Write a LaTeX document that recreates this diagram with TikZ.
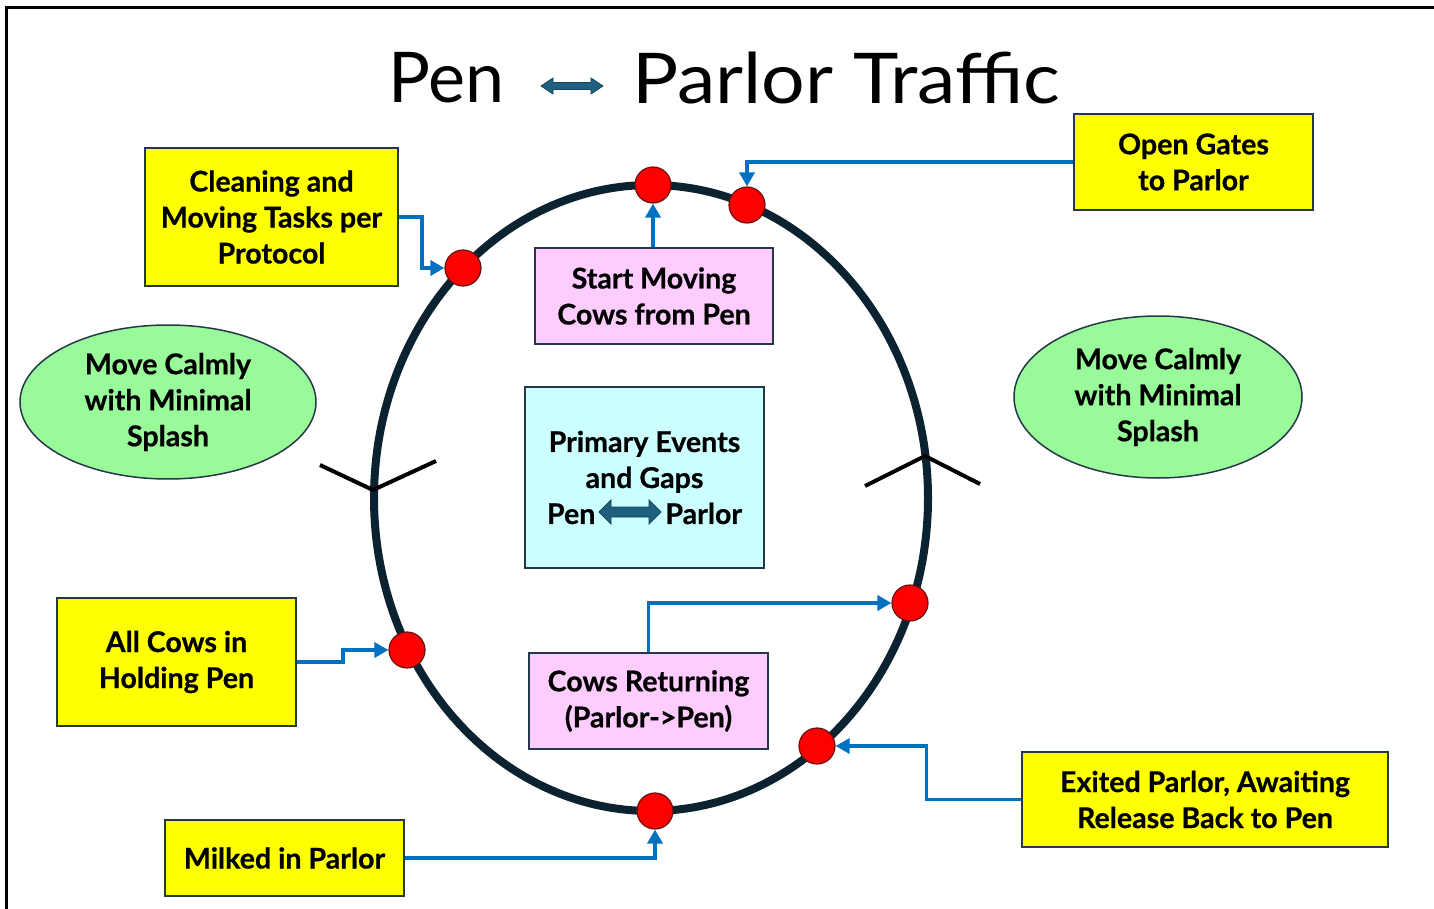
\documentclass[tikz,border=0pt]{standalone}
\usepackage{fontspec}
\setmainfont{Lato}
\newfontfamily\boxfont{Lato}[BoldFeatures={FakeBold=0.6}]
\newfontfamily\titlefont{Lato}
\newfontfamily\titlewidefont{Lato}[FakeStretch=1.1]
\usetikzlibrary{shapes.geometric,arrows.meta,calc}
\definecolor{boxyellow}{HTML}{FFFF00}
\definecolor{boxpink}{HTML}{FFCCFF}
\definecolor{boxcyan}{HTML}{CCFFFF}
\definecolor{boxgreen}{HTML}{99FA99}
\definecolor{edgecol}{HTML}{253848}
\definecolor{ringcol}{HTML}{0B2230}
\definecolor{conncol}{HTML}{0070C0}
\definecolor{tealcol}{HTML}{1F5F80}
\definecolor{dotedge}{HTML}{6A1010}
\begin{document}
\begin{tikzpicture}[x=0.5pt,y=-0.5pt,
  txt/.style={font=\boxfont\fontsize{14.3}{18}\selectfont\bfseries, align=center, inner sep=0pt, text=black},
  ybox/.style={txt, draw=edgecol, line width=0.75pt, fill=boxyellow, rectangle},
  pbox/.style={txt, draw=edgecol, line width=0.75pt, fill=boxpink, rectangle},
  cbox/.style={txt, draw=edgecol, line width=0.75pt, fill=boxcyan, rectangle},
  gell/.style={txt, draw=edgecol, line width=0.75pt, fill=boxgreen, ellipse},
  reddot/.style={circle, fill=red, draw=dotedge, line width=0.6pt, minimum size=18pt, inner sep=0pt},
  conn/.style={draw=conncol, line width=1.75pt, -{Triangle[length=7pt,width=7.5pt]}},
  chev/.style={draw=black, line width=2pt},
  tealarrow/.style={fill=tealcol, draw=tealcol!70!black, line width=0.4pt}
]
\useasboundingbox (0,0) rectangle (1434,909);
% frame
\draw[line width=1.5pt] (6,909) -- (6,8) -- (1434,8);

% title
\node[font=\titlefont\fontsize{35}{40}\selectfont, inner sep=0pt, anchor=west] (tpen) at (388,78) {Pen};
\node[font=\titlewidefont\fontsize{35}{40}\selectfont, inner sep=0pt, anchor=west] (tparlor) at (632,78) {Parlor Traffic};
\begin{scope}[shift={(572,86)}]
\path[tealarrow] (-31,0) -- (-19,-8) -- (-19,-3.5) -- (19,-3.5) -- (19,-8) -- (31,0) -- (19,8) -- (19,3.5) -- (-19,3.5) -- (-19,8) -- cycle;
\end{scope}

% ring
\node[ellipse, draw=ringcol, line width=4pt, minimum width=277pt, minimum height=313pt, inner sep=0pt] (ring) at (651,498) {};

% chevrons
\coordinate (vl) at (373,490);
\coordinate (vr) at (925,456);
\draw[chev] ($(vl)+(-53,-25)$) -- (vl) -- ($(vl)+(63,-29)$);
\draw[chev] ($(vr)+(-60,30)$) -- (vr) -- ($(vr)+(55,28)$);

% boxes
\node[ybox, minimum width=126.5pt, minimum height=69pt] (clean) at (271.5,217) {Cleaning and\\Moving Tasks per\\Protocol};
\node[ybox, minimum width=119.5pt, minimum height=48pt] (gates) at (1193.5,162) {Open Gates\\to Parlor};
\node[ybox, minimum width=119.5pt, minimum height=64pt] (hold) at (176.5,662) {All Cows in\\Holding Pen};
\node[ybox, minimum width=119.5pt, minimum height=38pt] (milk) at (284.5,858) {Milked in Parlor};
\node[ybox, minimum width=183pt, minimum height=47.5pt] (exit) at (1205,799.5) {Exited Parlor, Awaiting\\Release Back to Pen};
\node[pbox, minimum width=119pt, minimum height=48pt] (start) at (654,296) {Start Moving\\Cows from Pen};
\node[pbox, minimum width=119.5pt, minimum height=48pt] (ret) at (648.5,701) {Cows Returning\\(Parlor->Pen)};
\node[cbox, minimum width=119.5pt, minimum height=90.5pt] (prim) at (644.5,477.5) {Primary Events\\and Gaps\\Pen\hspace{35pt}Parlor};
\begin{scope}[shift={(630,512)}]
\path[tealarrow] (-31,0) -- (-19,-12) -- (-19,-5) -- (19,-5) -- (19,-12) -- (31,0) -- (19,12) -- (19,5) -- (-19,5) -- (-19,12) -- cycle;
\end{scope}
\node[gell, minimum width=148pt, minimum height=77pt] (calml) at (168,402) {Move Calmly\\with Minimal\\Splash};
\node[gell, minimum width=144pt, minimum height=81pt] (calmr) at (1158,397) {Move Calmly\\with Minimal\\Splash};

% dots
\node[reddot] (d1) at (463,268) {};
\node[reddot] (d2) at (653,185) {};
\node[reddot] (d3) at (747,205) {};
\node[reddot] (d4) at (910,603) {};
\node[reddot] (d5) at (817,746) {};
\node[reddot] (d6) at (655,811) {};
\node[reddot] (d7) at (407,650) {};

% connectors
\draw[conn] (clean.east) -- ++(23,0) |- (d1.west);
\draw[conn] (gates.west) -| (d3.north);
\draw[conn] (d2.south |- start.north) -- (d2.south);
\draw[conn] (ret.north) |- (d4.west);
\draw[conn] (hold.east) -- ++(46,0) |- (d7.west);
\draw[conn] (milk.east) -| (d6.south);
\draw[conn] (exit.west) -- ++(-95,0) |- (d5.east);
\end{tikzpicture}
\end{document}
